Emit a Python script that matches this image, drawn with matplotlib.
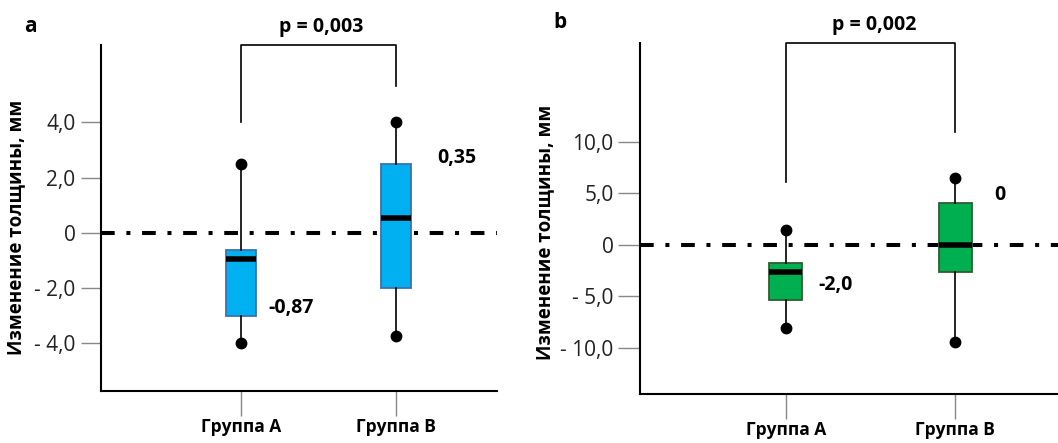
import matplotlib.pyplot as plt

plt.rcParams['font.family'] = ['Open Sans', 'DejaVu Sans']

# ==============================
# DATA
# ==============================
groups = ["Группа А", "Группа В"]

# panel a
a_whislo = [-4.0, -3.73]
a_q1 = [-3.0, -2.0]
a_med = [-0.95, 0.54]
a_q3 = [-0.62, 2.5]
a_whishi = [2.5, 4.0]
a_labels = ["-0,87", "0,35"]
a_yticks = [-4.0, -2.0, 0.0, 2.0, 4.0]
a_yticklabels = ["- 4,0", "- 2,0", "0", "2,0", "4,0"]
a_p = "p = 0,003"

# panel b
b_whislo = [-8.06, -9.4]
b_q1 = [-5.34, -2.62]
b_med = [-2.6, 0.0]
b_q3 = [-1.75, 4.08]
b_whishi = [1.46, 6.5]
b_labels = ["-2,0", "0"]
b_yticks = [-10.0, -5.0, 0.0, 5.0, 10.0]
b_yticklabels = ["- 10,0", "- 5,0", "0", "5,0", "10,0"]
b_p = "p = 0,002"

W, H = 1058, 443
fig = plt.figure(figsize=(W / 100, H / 100), dpi=100)


def px_axes(x0, y0, x1, y1):
    # pixel box (top-left origin) -> figure fraction
    return fig.add_axes([x0 / W, 1 - y1 / H, (x1 - x0) / W, (y1 - y0) / H])


def draw_panel(ax, whislo, q1, med, q3, whishi, labels, yticks, yticklabels,
               ylim, xlim, fill, edge, ptext, bracket_ends, label_pos,
               tick_len, tick_pad):
    stats = []
    for i in range(len(groups)):
        stats.append(dict(whislo=whislo[i], q1=q1[i], med=med[i], q3=q3[i],
                          whishi=whishi[i], fliers=[]))
    pos = [1, 2]
    ax.bxp(stats, positions=pos, widths=0.195, patch_artist=True,
           showcaps=False,
           boxprops=dict(facecolor=fill, edgecolor=edge, linewidth=1.3),
           medianprops=dict(color='black', linewidth=4, solid_capstyle='butt'),
           whiskerprops=dict(color='black', linewidth=1.2), zorder=3)
    ax.plot(pos, whislo, 'o', color='black', markersize=7.5, zorder=4)
    ax.plot(pos, whishi, 'o', color='black', markersize=7.5, zorder=4)

    ax.axhline(0, color='black', linewidth=2.9, dashes=(3.4, 2.9, 1.0, 2.9),
               zorder=2)

    ax.set_xlim(*xlim)
    ax.set_ylim(*ylim)
    for s in ['top', 'right']:
        ax.spines[s].set_visible(False)
    ax.spines['left'].set_linewidth(1.5)
    ax.spines['bottom'].set_linewidth(1.5)

    ax.set_yticks(yticks)
    ax.set_yticklabels(yticklabels, fontsize=15, color='#222222')
    ax.tick_params(axis='y', length=tick_len, width=1, color='#888888',
                   pad=tick_pad)
    ax.set_xticks(pos)
    ax.set_xticklabels(groups, fontsize=12.5, fontweight='bold')
    ax.tick_params(axis='x', length=18, width=1, color='#888888', pad=1.5)

    ax.set_ylabel("Изменение толщины, мм", fontsize=13.5, fontweight='bold')

    # bracket
    top = ylim[1]
    ax.plot([1, 1, 2, 2], [bracket_ends[0], top, top, bracket_ends[1]],
            color='black', linewidth=1.2, clip_on=False)
    ax.annotate(ptext, (1.52, top), xytext=(0, 13), textcoords='offset points',
                ha='center', va='center', fontsize=14, fontweight='bold')

    for i in range(len(groups)):
        ax.text(pos[i] + label_pos[i][0], label_pos[i][1], labels[i],
                ha='left', va='center', fontsize=14, fontweight='bold')


# ==============================
# PANEL a
# ==============================
ax1 = px_axes(101, 45, 497, 391)
draw_panel(ax1, a_whislo, a_q1, a_med, a_q3, a_whishi, a_labels,
           a_yticks, a_yticklabels, (-5.72, 6.8), (0.097, 2.652),
           '#00B0F0', '#3F6FB0', a_p, (4.0, 5.3),
           [(0.18, -2.7), (0.265, 2.7)], 14.4, 4)
ax1.yaxis.set_label_coords(-0.188, 0.474)

# ==============================
# PANEL b
# ==============================
ax2 = px_axes(640, 43, 1058, 394)
draw_panel(ax2, b_whislo, b_q1, b_med, b_q3, b_whishi, b_labels,
           b_yticks, b_yticklabels, (-14.5, 19.6), (0.141, 2.606),
           '#00B050', '#2E5E30', b_p, (6.1, 11.0),
           [(0.19, -3.9), (0.23, 4.85)], 16, 3)
ax2.yaxis.set_label_coords(-0.203, 0.46)

fig.text(24 / W, 1 - 27 / H, "a", fontsize=15, fontweight='bold',
         ha='left', va='center')
fig.text(553 / W, 1 - 22 / H, "b", fontsize=15, fontweight='bold',
         ha='left', va='center')

fig.savefig("out.png", dpi=100)
